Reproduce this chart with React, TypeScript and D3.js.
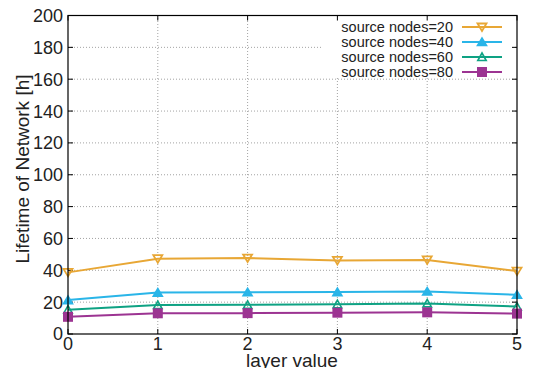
import * as d3 from "d3";
import React from "react";

const layers = [0, 1, 2, 3, 4, 5];
const nodes20 = [38.7, 47.3, 47.7, 46.2, 46.5, 39.5];
const nodes40 = [21.3, 26.0, 26.2, 26.3, 26.7, 24.6];
const nodes60 = [15.3, 18.2, 18.3, 18.7, 19.2, 17.2];
const nodes80 = [10.8, 13.0, 13.1, 13.4, 13.6, 12.8];
const yTicks = [0, 20, 40, 60, 80, 100, 120, 140, 160, 180, 200];

type Marker = "triDownOpen" | "triUpFilled" | "triUpOpen" | "square";

const series: { label: string; values: number[]; color: string; marker: Marker }[] = [
  { label: "source nodes=20", values: nodes20, color: "#e8a735", marker: "triDownOpen" },
  { label: "source nodes=40", values: nodes40, color: "#2ab5e8", marker: "triUpFilled" },
  { label: "source nodes=60", values: nodes60, color: "#0ea283", marker: "triUpOpen" },
  { label: "source nodes=80", values: nodes80, color: "#9c3492", marker: "square" },
];

const W = 533;
const H = 368;
const margin = { top: 15.5, right: 16, bottom: 34, left: 68 };
const font = "'Liberation Sans', Arial, Helvetica, sans-serif";

const MarkerShape = ({ kind, x, y, color }: { kind: Marker; x: number; y: number; color: string }) => {
  if (kind === "square") {
    return <rect x={x - 5} y={y - 5} width={10} height={10} fill={color} />;
  }
  if (kind === "triDownOpen") {
    const p = `${x - 4.5},${y - 3.5} ${x + 4.5},${y - 3.5} ${x},${y + 4}`;
    return <polygon points={p} fill="none" stroke={color} strokeWidth={1.8} />;
  }
  const filled = kind === "triUpFilled";
  const hw = filled ? 4.5 : 4.2;
  const p = `${x - hw},${y + 3.5} ${x + hw},${y + 3.5} ${x},${y - 4}`;
  return <polygon points={p} fill={filled ? color : "none"} stroke={color} strokeWidth={1.6} />;
};

export default function App() {
  const x = d3.scaleLinear().domain([0, 5]).range([margin.left, W - margin.right]);
  const y = d3.scaleLinear().domain([0, 200]).range([H - margin.bottom, margin.top]);
  const line = d3
    .line<number>()
    .x((_, i) => x(layers[i]))
    .y((d) => y(d));

  const x0 = x(0);
  const x1 = x(5);
  const yb = y(0);
  const yt = y(200);

  // key box masks the grid
  const key = { x: 322, y: 18, w: 192, h: 60 };
  const keyText = 453;
  const keyRow = (i: number) => 27 + i * 15;

  return (
    <svg
      width={W}
      height={H}
      style={{ position: "absolute", left: 0, top: 0, background: "#fff" }}
      fontFamily={font}
    >
      {/* grid */}
      {yTicks.slice(1, -1).map((t) => (
        <line key={"gy" + t} x1={x0} x2={x1} y1={y(t)} y2={y(t)} stroke="#999" strokeWidth={0.9} strokeDasharray="1,2" />
      ))}
      {layers.slice(1, -1).map((t) => (
        <line key={"gx" + t} x1={x(t)} x2={x(t)} y1={yb} y2={yt} stroke="#999" strokeWidth={0.9} strokeDasharray="1,2" />
      ))}
      <rect x={key.x} y={key.y} width={key.w} height={key.h} fill="#fff" />

      {/* ticks */}
      {yTicks.map((t) => (
        <g key={"ty" + t}>
          <line x1={x0} x2={x0 + 5} y1={y(t)} y2={y(t)} stroke="#000" />
          <line x1={x1} x2={x1 - 5} y1={y(t)} y2={y(t)} stroke="#000" />
          <text x={x0 - 5} y={y(t)} dy="0.36em" textAnchor="end" fontSize={18} fill="#222">
            {t}
          </text>
        </g>
      ))}
      {layers.map((t) => (
        <g key={"tx" + t}>
          <line x1={x(t)} x2={x(t)} y1={yb} y2={yb - 5} stroke="#000" />
          <line x1={x(t)} x2={x(t)} y1={yt} y2={yt + 5} stroke="#000" />
          <text x={x(t)} y={350} textAnchor="middle" fontSize={18} fill="#222">
            {t}
          </text>
        </g>
      ))}

      {/* series */}
      {series.map((s) => (
        <g key={s.label}>
          <path d={line(s.values) ?? ""} fill="none" stroke={s.color} strokeWidth={2} />
          {s.values.map((v, i) => (
            <MarkerShape key={i} kind={s.marker} x={x(layers[i])} y={y(v)} color={s.color} />
          ))}
        </g>
      ))}

      {/* frame */}
      <rect x={x0} y={yt} width={x1 - x0} height={yb - yt} fill="none" stroke="#000" strokeWidth={1.2} />

      {/* legend */}
      {series.map((s, i) => (
        <g key={"lg" + s.label}>
          <text x={keyText} y={keyRow(i)} dy="0.35em" textAnchor="end" fontSize={14.5} fill="#222">
            {s.label}
          </text>
          <line x1={462} x2={502} y1={keyRow(i)} y2={keyRow(i)} stroke={s.color} strokeWidth={2} />
          <MarkerShape kind={s.marker} x={482} y={keyRow(i)} color={s.color} />
        </g>
      ))}

      {/* axis titles */}
      <text x={292} y={367} textAnchor="middle" fontSize={19} fill="#222">
        layer value
      </text>
      <text transform="translate(29,169) rotate(-90)" textAnchor="middle" fontSize={19} fill="#222">
        Lifetime of Network [h]
      </text>
    </svg>
  );
}
